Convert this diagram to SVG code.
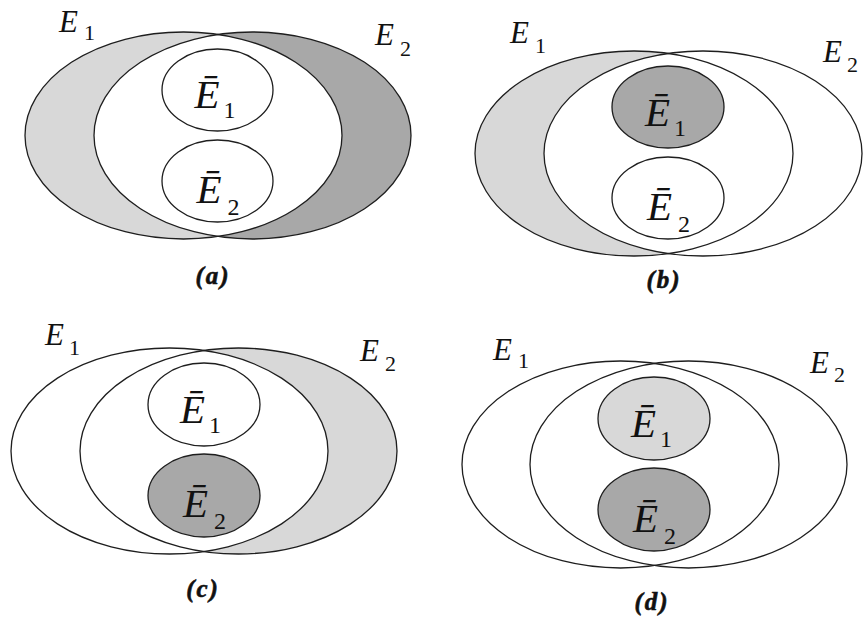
<svg xmlns="http://www.w3.org/2000/svg" width="865" height="624" viewBox="0 0 865 624">
<style>
.o{fill:none;stroke:#1e1e1e;stroke-width:1.3}
.lt{fill:#d8d8d8}
.dk{fill:#a8a8a8}
.w{fill:#ffffff}
.lbl{font-family:"Liberation Serif","Times New Roman",serif;font-style:italic;font-size:31px;fill:#111}
.in{font-family:"Liberation Serif","Times New Roman",serif;font-style:italic;font-size:41px;fill:#111}
.sub{font-style:normal;font-size:22px}
.isub{font-style:normal;font-size:24px}
.cap{font-family:"Liberation Serif","Times New Roman",serif;font-style:italic;font-weight:bold;font-size:25px;letter-spacing:2px;fill:#111;stroke:#111;stroke-width:0.6;text-anchor:middle}
</style>
<defs>
<clipPath id="ca"><ellipse cx="252.5" cy="135.5" rx="158.5" ry="103.5"/></clipPath>
<clipPath id="cb"><ellipse cx="703" cy="153.5" rx="159" ry="102.5"/></clipPath>
<clipPath id="cc"><ellipse cx="169.5" cy="451" rx="158.5" ry="103"/></clipPath>
</defs>
<rect width="865" height="624" fill="#ffffff"/>

<g id="panel-a">
<ellipse class="lt" cx="183.5" cy="135.5" rx="158.5" ry="103.5"/>
<ellipse class="dk" cx="252.5" cy="135.5" rx="158.5" ry="103.5"/>
<ellipse class="w" cx="183.5" cy="135.5" rx="158.5" ry="103.5" clip-path="url(#ca)"/>
<g id="a-E1"><ellipse class="o" cx="183.5" cy="135.5" rx="158.5" ry="103.5"/><text class="lbl" x="59" y="32">E<tspan class="sub" dx="6" dy="8">1</tspan></text></g>
<g id="a-E2"><ellipse class="o" cx="252.5" cy="135.5" rx="158.5" ry="103.5"/><text class="lbl" x="375" y="45">E<tspan class="sub" dx="6" dy="11">2</tspan></text></g>
<g id="a-nE1"><ellipse class="o w" cx="217.5" cy="90" rx="55.5" ry="41"/><text class="in" x="194.5" y="108">Ē<tspan class="isub" dx="4" dy="10">1</tspan></text></g>
<g id="a-nE2"><ellipse class="o w" cx="217.5" cy="181" rx="55.5" ry="41"/><text class="in" x="196.5" y="203">Ē<tspan class="isub" dx="6" dy="12">2</tspan></text></g>
<text class="cap" x="213" y="284">(a)</text>
</g>

<g id="panel-b">
<ellipse class="lt" cx="634" cy="153.5" rx="159" ry="102.5"/>
<ellipse class="w" cx="634" cy="153.5" rx="159" ry="102.5" clip-path="url(#cb)"/>
<g id="b-E1"><ellipse class="o" cx="634" cy="153.5" rx="159" ry="102.5"/><text class="lbl" x="510" y="43">E<tspan class="sub" dx="6" dy="10">1</tspan></text></g>
<g id="b-E2"><ellipse class="o" cx="703" cy="153.5" rx="159" ry="102.5"/><text class="lbl" x="823" y="62">E<tspan class="sub" dx="5" dy="10">2</tspan></text></g>
<g id="b-nE1"><ellipse class="o dk" cx="668" cy="107" rx="56" ry="41"/><text class="in" x="645" y="126">Ē<tspan class="isub" dx="4" dy="10">1</tspan></text></g>
<g id="b-nE2"><ellipse class="o w" cx="668" cy="198" rx="56" ry="41"/><text class="in" x="647" y="220">Ē<tspan class="isub" dx="6" dy="12">2</tspan></text></g>
<text class="cap" x="664" y="288">(b)</text>
</g>

<g id="panel-c">
<ellipse class="lt" cx="238.5" cy="451" rx="158.5" ry="103"/>
<ellipse class="w" cx="238.5" cy="451" rx="158.5" ry="103" clip-path="url(#cc)"/>
<g id="c-E1"><ellipse class="o" cx="169.5" cy="451" rx="158.5" ry="103"/><text class="lbl" x="45" y="345">E<tspan class="sub" dx="5" dy="10">1</tspan></text></g>
<g id="c-E2"><ellipse class="o" cx="238.5" cy="451" rx="158.5" ry="103"/><text class="lbl" x="360" y="361">E<tspan class="sub" dx="6" dy="10">2</tspan></text></g>
<g id="c-nE1"><ellipse class="o w" cx="204" cy="404.5" rx="56" ry="41.5"/><text class="in" x="180" y="423">Ē<tspan class="isub" dx="4" dy="10">1</tspan></text></g>
<g id="c-nE2"><ellipse class="o dk" cx="204" cy="495.5" rx="56" ry="41.5"/><text class="in" x="183" y="517">Ē<tspan class="isub" dx="6" dy="12">2</tspan></text></g>
<text class="cap" x="203" y="597">(c)</text>
</g>

<g id="panel-d">
<g id="d-E1"><ellipse class="o" cx="620.5" cy="464.5" rx="158.5" ry="103.5"/><text class="lbl" x="493" y="360">E<tspan class="sub" dx="6" dy="8">1</tspan></text></g>
<g id="d-E2"><ellipse class="o" cx="688.5" cy="464.5" rx="158.5" ry="103.5"/><text class="lbl" x="810" y="373">E<tspan class="sub" dx="5" dy="9">2</tspan></text></g>
<g id="d-nE1"><ellipse class="o lt" cx="654" cy="418.5" rx="56" ry="41.5"/><text class="in" x="631" y="437">Ē<tspan class="isub" dx="4" dy="10">1</tspan></text></g>
<g id="d-nE2"><ellipse class="o dk" cx="654" cy="509.5" rx="56" ry="41.5"/><text class="in" x="633" y="532">Ē<tspan class="isub" dx="6" dy="12">2</tspan></text></g>
<text class="cap" x="652" y="610">(d)</text>
</g>
</svg>
